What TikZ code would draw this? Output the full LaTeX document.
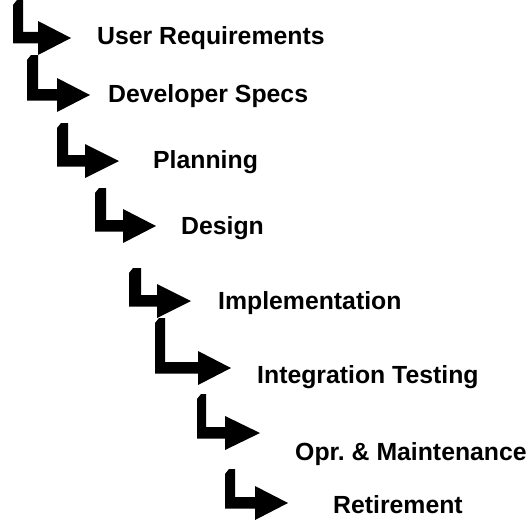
\documentclass[tikz,border=0pt]{standalone}
\usepackage{fontspec}
\setmainfont{Liberation Sans}
\frenchspacing
\newcommand\sdlcarrow[6]{%
  \fill[arrowfill] (#1,#3+5) -- (#1+4,#3) -- (#2,#3) -- (#2,#4-6) -- (#5,#4-6) -- (#5,#4-17)
    -- (#6,#4) -- (#5,#4+17) -- (#5,#4+5.5) -- (#1,#4+5.5) -- cycle;}
\begin{document}
\begin{tikzpicture}[x=1pt,y=-1pt,
  arrowfill/.style={fill=black},
  phase/.style={anchor=base west,inner sep=0pt,font=\fontsize{24.8}{28}\selectfont\bfseries}]
\useasboundingbox (0,0) rectangle (529,527);
\sdlcarrow{13}{23}{0}{38}{38}{71}
\sdlcarrow{27}{38}{55}{95}{57}{90}
\sdlcarrow{57}{68}{123}{161}{85}{119}
\sdlcarrow{95}{106}{188}{226}{123}{156}
\sdlcarrow{129}{141}{268}{301}{157}{191}
\sdlcarrow{155}{165}{318}{368}{198}{231}
\sdlcarrow{197}{206}{394}{433}{225}{260}
\sdlcarrow{225}{235}{469}{503}{255}{288}
\node[phase] (ur) at (97,45) {User Requirements};
\node[phase] (ds) at (108,102) {Developer Specs};
\node[phase] (pl) at (153,168) {Planning};
\node[phase] (de) at (181,234) {Design};
\node[phase] (im) at (218,309) {Implementation};
\node[phase] (it) at (257,383) {Integration Testing};
\node[phase] (om) at (295,460) {Opr. \& Maintenance};
\node[phase] (re) at (333,513) {Retirement};
\end{tikzpicture}
\end{document}
